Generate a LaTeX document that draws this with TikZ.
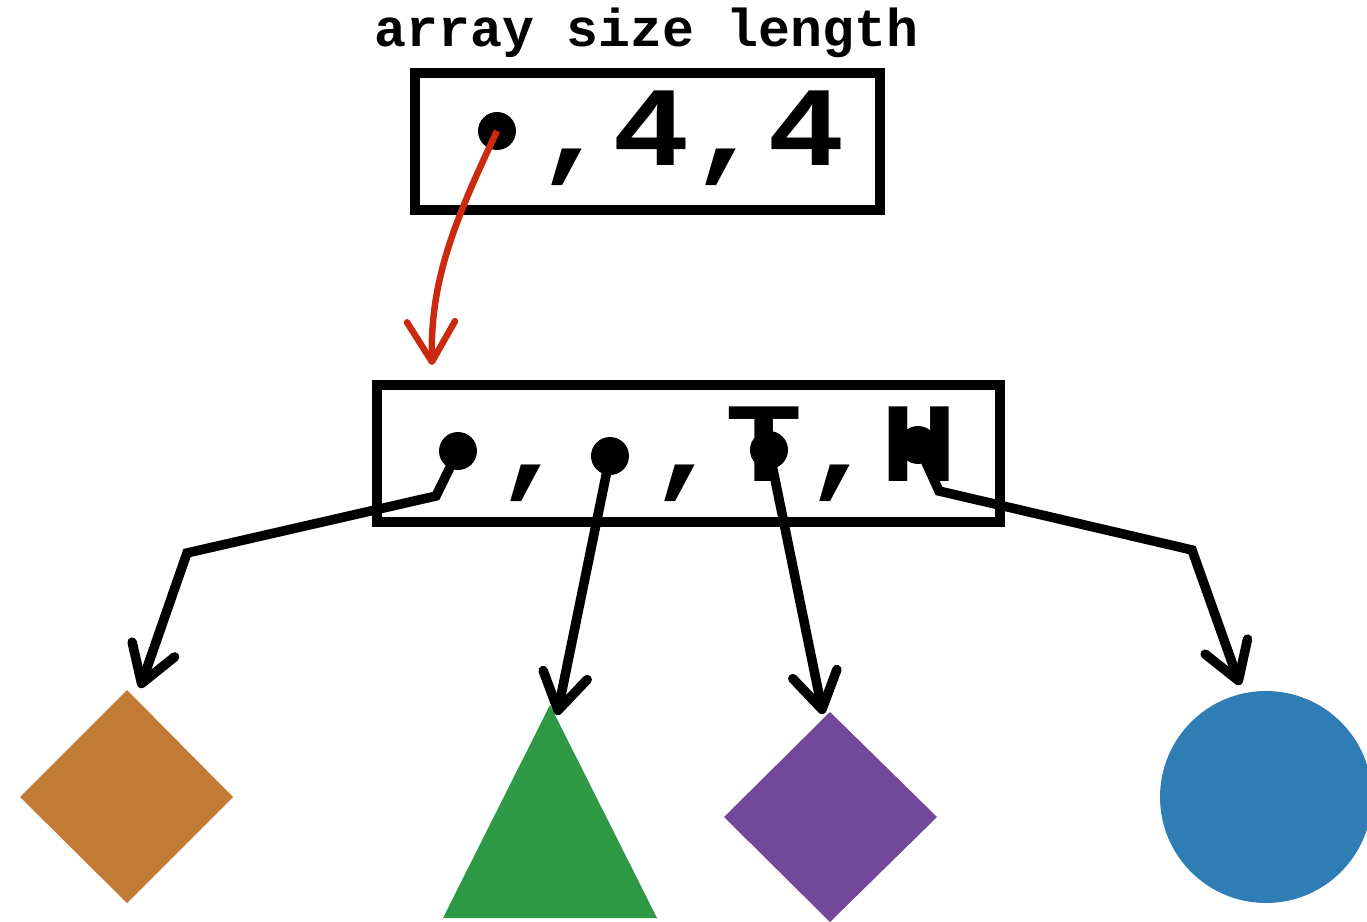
\documentclass[tikz,border=0pt]{standalone}
\usepackage{fontspec}
\usepackage{graphicx}
\setmonofont{Liberation Mono}
\usetikzlibrary{arrows.meta,shapes.geometric}
\definecolor{orangec}{HTML}{C27A35}
\definecolor{greenc}{HTML}{2E9944}
\definecolor{purplec}{HTML}{71489A}
\definecolor{bluec}{HTML}{2E7DB5}
\definecolor{redc}{HTML}{CC2A0E}
\begin{document}
\begin{tikzpicture}[x=0.02cm,y=-0.02cm,
  boxnode/.style={draw=black,line width=0.2cm,rectangle,inner sep=0pt},
  lbl/.style={font={\ttfamily\bfseries\fontsize{30.3pt}{34pt}\selectfont},inner sep=0pt},
  big/.style={font={\ttfamily\bfseries\fontsize{73.3pt}{80pt}\selectfont},inner sep=0pt},
  dot/.style={circle,fill=black,inner sep=0pt,minimum size=0.76cm},
  blk/.style={draw=black,line width=0.19cm,-{Straight Barb[length=0.72cm,width=0.9cm,round]}},
  redarrow/.style={draw=redc,line width=0.13cm,-{Straight Barb[length=0.8cm,width=0.96cm,round]}}]
\useasboundingbox[fill=white] (0,0) rectangle (1367,922);

% shapes
\fill[orangec] (127,690) -- (233,797) -- (127,903) -- (20,797) -- cycle;
\fill[greenc] (550,705) -- (657,918) -- (443,918) -- cycle;
\fill[purplec] (830,712) -- (937,817) -- (830,922) -- (724,817) -- cycle;
\fill[bluec] (1266,797) circle [radius=2.12cm];

% boxes
\node[boxnode,minimum width=9.3cm,minimum height=2.74cm] (top) at (647.5,141.5) {};
\node[boxnode,minimum width=12.46cm,minimum height=2.74cm] (arr) at (688.5,453.5) {};

% texts
\node[lbl,anchor=base] (label) at (646.5,47) {array size length};
\node[big,anchor=base] (vals) at (690,166) {\scalebox{1}[0.88]{,4,4}};
\node[big,anchor=base] (elems) at (726,481) {\scalebox{1}[0.88]{,\hphantom{,},T,H}};

% dots
\node[dot] (p0) at (497,131) {};
\node[dot] (p1) at (458,451) {};
\node[dot] (p2) at (610,456) {};
\node[dot] (p3) at (769,450) {};
\node[dot] (p4) at (918,445) {};

% coordinates
\coordinate (b1) at (436,496);
\coordinate (b2) at (187,553);
\coordinate (t1) at (140,688);
\coordinate (t2) at (557,715);
\coordinate (t3) at (823,714);
\coordinate (b3) at (939,491);
\coordinate (b4) at (1192,550);
\coordinate (t4) at (1240,685);
\coordinate (tr) at (432,365);

% arrows
\draw[blk] (p1.center) -- (b1) -- (b2) -- (t1);
\draw[blk] (p2.center) -- (t2);
\draw[blk] (p3.center) -- (t3);
\draw[blk] (p4.center) -- (b3) -- (b4) -- (t4);
\draw[redarrow] (p0.center) .. controls (455,220) and (430,280) .. (tr);
\end{tikzpicture}
\end{document}
